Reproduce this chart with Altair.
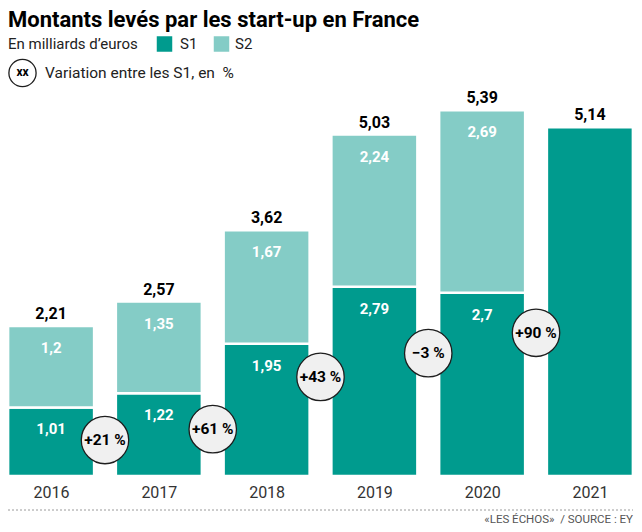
import pandas as pd
import altair as alt

# Données (en milliards d'euros)
years = [2016, 2017, 2018, 2019, 2020, 2021]
s1 = [1.01, 1.22, 1.95, 2.79, 2.70, 5.14]
s2 = [1.20, 1.35, 1.67, 2.24, 2.69, None]
totals = [2.21, 2.57, 3.62, 5.03, 5.39, 5.14]

# Variation entre les S1 (bulles placées entre deux barres)
var_years = [2016.5, 2017.5, 2018.5, 2019.5, 2020.5]
var_labels = ["+21 %", "+61 %", "+43 %", "\u22123 %", "+90 %"]
var_height = [0.53, 0.69, 1.46, 1.81, 2.11]

S1_COLOR = "#009b8e"
S2_COLOR = "#84ccc6"
FONT = "Roboto"
W, H = 625, 376


def fr(v):
    return f"{v:g}".replace(".", ",")


rows = []
for y, a, b in zip(years, s1, s2):
    rows.append({"year": y, "series": "S1", "start": 0, "end": a, "label": fr(a) if b is not None else ""})
    if b is not None:
        rows.append({"year": y, "series": "S2", "start": a, "end": a + b, "label": fr(b)})
seg = pd.DataFrame(rows)

tot = pd.DataFrame({"year": years, "total": totals, "label": [fr(t) for t in totals]})
var = pd.DataFrame({"year": var_years, "h": var_height, "label": var_labels})

x_scale = alt.Scale(domain=[2015.6, 2021.4], nice=False, zero=False, padding=0)
y_scale = alt.Scale(domain=[0, 5.54], nice=False)
color_scale = alt.Scale(domain=["S1", "S2"], range=[S1_COLOR, S2_COLOR])

x_axis = alt.Axis(values=years, format="d", grid=False, domain=False, ticks=False,
                  labelFontSize=16, labelColor="#333333", labelPadding=8, title=None)

bars = alt.Chart(seg).mark_bar(size=86, stroke="white", strokeWidth=2.5).encode(
    x=alt.X("year:Q", scale=x_scale, axis=x_axis),
    y=alt.Y("start:Q", scale=y_scale, axis=None),
    y2="end:Q",
    color=alt.Color("series:N", scale=color_scale, legend=None),
)

inner = alt.Chart(seg).transform_filter("datum.label != ''").mark_text(
    color="white", fontWeight="bold", fontSize=15, baseline="middle", dy=22
).encode(x="year:Q", y="end:Q", text="label:N")

top_labels = alt.Chart(tot).mark_text(
    color="black", fontWeight="bold", fontSize=16, baseline="middle", dy=-12
).encode(x="year:Q", y="total:Q", text="label:N")

bubbles = alt.Chart(var).mark_circle(
    size=2250, color="#f0f0f0", opacity=1, stroke="#1e1e1e", strokeWidth=1.3
).encode(x="year:Q", y="h:Q")

bubble_text = alt.Chart(var).mark_text(
    color="black", fontWeight="bold", fontSize=15.5, baseline="middle"
).encode(x="year:Q", y="h:Q", text="label:N")

one = pd.DataFrame({"k": [0]})

dotted = alt.Chart(one).mark_rule(strokeDash=[2, 2], color="#9a9a9a", strokeWidth=1).encode(
    x=alt.value(0), x2=alt.value(W), y=alt.value(410)
)

source = alt.Chart(one).mark_text(align="right", baseline="middle", fontSize=11.5, color="#555555").encode(
    x=alt.value(W), y=alt.value(420), text=alt.value("\u00abLES \u00c9CHOS\u00bb\u00a0 / SOURCE : EY")
)

title = alt.Chart(one).mark_text(align="left", baseline="alphabetic", fontSize=22, fontWeight="bold",
                                 color="black").encode(
    x=alt.value(0), y=alt.value(-73), text=alt.value("Montants lev\u00e9s par les start-up en France")
)

subtitle = alt.Chart(one).mark_text(align="left", baseline="middle", fontSize=15, color="#222222").encode(
    x=alt.value(0), y=alt.value(-56), text=alt.value("En milliards d\u2019euros")
)

sq1 = alt.Chart(one).mark_square(size=240, color=S1_COLOR, opacity=1).encode(x=alt.value(156.5), y=alt.value(-56))
sq2 = alt.Chart(one).mark_square(size=240, color=S2_COLOR, opacity=1).encode(x=alt.value(213.5), y=alt.value(-56))
lab1 = alt.Chart(one).mark_text(align="left", baseline="middle", fontSize=15, color="#222222").encode(
    x=alt.value(172), y=alt.value(-56), text=alt.value("S1"))
lab2 = alt.Chart(one).mark_text(align="left", baseline="middle", fontSize=15, color="#222222").encode(
    x=alt.value(227), y=alt.value(-56), text=alt.value("S2"))

xx_circle = alt.Chart(one).mark_circle(size=740, color="white", opacity=1, stroke="#1e1e1e",
                                       strokeWidth=1.3).encode(x=alt.value(14.5), y=alt.value(-27))
xx_text = alt.Chart(one).mark_text(fontSize=12, fontWeight="bold", baseline="middle", color="black").encode(
    x=alt.value(14.5), y=alt.value(-28), text=alt.value("xx"))
var_legend = alt.Chart(one).mark_text(align="left", baseline="middle", fontSize=15.5, color="#222222").encode(
    x=alt.value(37), y=alt.value(-27), text=alt.value("Variation entre les S1, en\u00a0 %"))

chart = alt.layer(
    bars, inner, top_labels, bubbles, bubble_text, dotted, source,
    title, subtitle, sq1, sq2, lab1, lab2, xx_circle, xx_text, var_legend
).properties(
    width=W,
    height=H,
    autosize=alt.AutoSizeParams(type="none"),
    padding={"left": 0, "top": 92, "right": 1, "bottom": 52},
).configure(font=FONT).configure_view(stroke=None)

chart.save("out.html", embed_options={"renderer": "svg", "actions": False})
